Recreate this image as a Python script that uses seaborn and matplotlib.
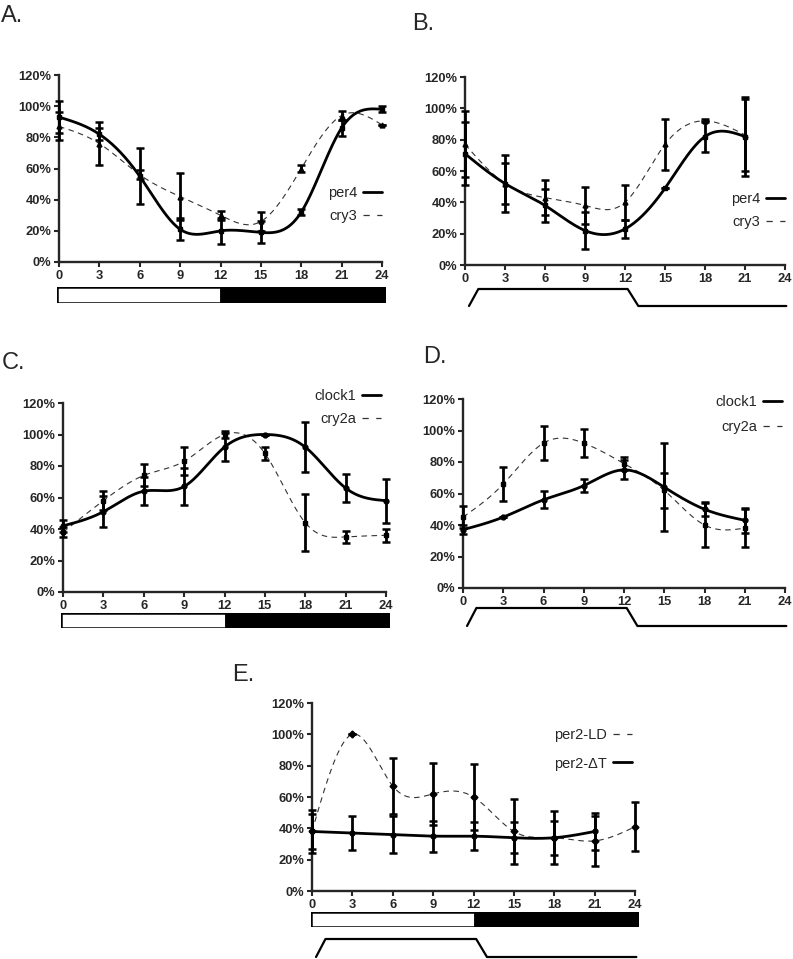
import numpy as np
import matplotlib
matplotlib.use("Agg")
import matplotlib.pyplot as plt
import seaborn as sns
from matplotlib.lines import Line2D

# time points (hours)
hours = [0, 3, 6, 9, 12, 15, 18, 21, 24]
hours_21 = [0, 3, 6, 9, 12, 15, 18, 21]

# A. per4 / cry3 under light-dark
a_per4 = [93, 82, 55, 21, 20, 19, 32, 86, 98]
a_per4_err = [10, 4, 18, 7, 8.5, 7, 2, 5, 2]
a_cry3 = [87, 76, 56, 42, 30, 26, 60, 94, 88]
a_cry3_err = [9, 14, 3, 15, 3, 6, 2, 3, 0]

# B. per4 / cry3 under temperature cycle
b_per4 = [71, 52, 38, 22, 23, 49, 82, 82]
b_per4_err = [20, 18, 10.7, 12, 6, 0, 10, 25]
b_cry3 = [77, 52, 43, 38, 40, 77, 92, 83]
b_cry3_err = [21, 13, 11, 12, 11, 16.5, 1, 23]

# C. clock1 / cry2a under light-dark
c_clock1 = [42, 51, 64, 67, 92, 100, 92, 66, 58]
c_clock1_err = [4, 10, 9, 12, 9, 0, 16, 9, 14]
c_cry2a = [38, 58, 74, 83, 100, 88, 44, 35, 36]
c_cry2a_err = [3, 6, 7, 9, 2, 4, 18, 4, 4]

# D. clock1 / cry2a under temperature cycle
d_clock1 = [37, 45, 56, 65, 75, 64, 50, 43]
d_clock1_err = [3, 0, 5.5, 4, 6, 28, 4.5, 8]
d_cry2a = [45, 66, 92, 92, 79, 62, 40, 38]
d_cry2a_err = [7, 11, 11, 9, 4, 11, 14, 12]

# E. per2 LD vs temperature cycle
e_ld = [38, 100, 67, 62, 60, 38, 34, 32, 41]
e_ld_err = [14, 0, 18, 20, 21, 21, 17, 16, 15.5]
e_dt = [38, 37, 36, 35, 35, 34, 34, 38]
e_dt_err = [11, 11, 12, 10, 9, 10, 11, 12]

# light schedule bar (start, length, colour)
ld_start = [0, 12]
ld_length = [12, 12]
ld_colors = ["white", "black"]

# temperature schematic trace
trace_x = [0.3, 1.0, 12.2, 13.0, 24.1]
trace_y = [0, 1, 1, 0, 0]

W, H = 793, 959
sns.set_style("ticks")
plt.rcParams["font.family"] = ["Liberation Sans", "DejaVu Sans"]

fig = plt.figure(figsize=(W / 100, H / 100), dpi=100)


def box(x0, y0, x1, y1):
    return [x0 / W, 1 - y1 / H, (x1 - x0) / W, (y1 - y0) / H]


def spline(x, y, n=300):
    # natural cubic spline through the points, like the smoothed curves in the figure
    x = np.asarray(x, float)
    y = np.asarray(y, float)
    k = len(x)
    h = np.diff(x)
    A = np.zeros((k, k))
    b = np.zeros(k)
    A[0, 0] = A[-1, -1] = 1
    for i in range(1, k - 1):
        A[i, i - 1] = h[i - 1]
        A[i, i] = 2 * (h[i - 1] + h[i])
        A[i, i + 1] = h[i]
        b[i] = 3 * ((y[i + 1] - y[i]) / h[i] - (y[i] - y[i - 1]) / h[i - 1])
    c = np.linalg.solve(A, b)
    xs = np.linspace(x[0], x[-1], n)
    idx = np.clip(np.searchsorted(x, xs) - 1, 0, k - 2)
    dx = xs - x[idx]
    bb = (y[1:] - y[:-1]) / h - h * (2 * c[:-1] + c[1:]) / 3
    d = (c[1:] - c[:-1]) / (3 * h)
    ys = y[idx] + bb[idx] * dx + c[idx] * dx ** 2 + d[idx] * dx ** 3
    return xs, ys


SOLID = dict(color="black", lw=2.0)
DASH = dict(color="#333333", lw=0.8, linestyle=(0, (5, 4)))
DASH_LEG = dict(color="#333333", lw=0.9, linestyle=(0, (5, 6)))


def draw_series(ax, x, y, err, style, marker):
    xs, ys = spline(x, y)
    sns.lineplot(x=xs, y=ys, ax=ax, sort=False, estimator=None, **style)
    ax.errorbar(x, y, yerr=err, fmt=marker, ms=3.5, color="black",
                elinewidth=2.0, capsize=3, capthick=1.8, clip_on=False, zorder=3)


def setup(ax):
    ax.set_xlim(0, 24)
    ax.set_ylim(0, 120)
    ax.set_xticks(range(0, 25, 3))
    ax.set_yticks(range(0, 121, 20))
    ax.set_yticklabels([f"{v}%" for v in range(0, 121, 20)])
    sns.despine(ax=ax)
    for s in ("left", "bottom"):
        ax.spines[s].set_linewidth(1.7)
    ax.tick_params(width=1.5, length=3.5, pad=2, labelsize=9.3)
    for t in ax.get_xticklabels() + ax.get_yticklabels():
        t.set_fontweight("bold")
    ax.set_xlabel("")
    ax.set_ylabel("")
    ax.patch.set_alpha(0)


def legend(ax, names, styles, loc_xy, spacing=0.6):
    handles = [Line2D([], [], **st) for st in styles]
    lg = ax.legend(handles, names, loc="upper right", bbox_to_anchor=loc_xy,
                   bbox_transform=fig.transFigure, frameon=False, markerfirst=False,
                   fontsize=10.5, handlelength=1.3, handletextpad=0.4,
                   labelspacing=spacing, borderpad=0, borderaxespad=0)
    return lg


def ld_bar(rect):
    ax = fig.add_axes(box(*rect))
    ax.barh([0], ld_length, left=ld_start, color=ld_colors, edgecolor="black",
            linewidth=1.8, height=1)
    ax.set_xlim(0, 24)
    ax.set_ylim(-0.5, 0.5)
    ax.axis("off")


def temp_trace(rect):
    ax = fig.add_axes(box(*rect))
    sns.lineplot(x=trace_x, y=trace_y, ax=ax, sort=False, estimator=None,
                 color="black", lw=1.6)
    for ln in ax.lines:
        ln.set_clip_on(False)
    ax.set_xlim(0, 24)
    ax.set_ylim(0, 1)
    ax.axis("off")


# Panel A
axA = fig.add_axes(box(59, 75, 382, 262))
draw_series(axA, hours, a_cry3, a_cry3_err, DASH, "^")
draw_series(axA, hours, a_per4, a_per4_err, SOLID, "s")
setup(axA)
legend(axA, ["per4", "cry3"], [SOLID, DASH_LEG], (382 / W, 1 - 186 / H))
ld_bar((57, 287, 386, 303))

# Panel B
axB = fig.add_axes(box(465, 77, 785, 265))
draw_series(axB, hours_21, b_cry3, b_cry3_err, DASH, "^")
draw_series(axB, hours_21, b_per4, b_per4_err, SOLID, "s")
setup(axB)
legend(axB, ["per4", "cry3"], [SOLID, DASH_LEG], (785 / W, 1 - 192 / H))
temp_trace((465, 289, 785, 306))

# Panel C
axC = fig.add_axes(box(63, 403, 386, 592))
draw_series(axC, hours, c_cry2a, c_cry2a_err, DASH, "s")
draw_series(axC, hours, c_clock1, c_clock1_err, SOLID, "o")
setup(axC)
legend(axC, ["clock1", "cry2a"], [SOLID, DASH_LEG], (381 / W, 1 - 389 / H))
ld_bar((61, 613, 390, 628))

# Panel D
axD = fig.add_axes(box(463, 399, 785, 588))
draw_series(axD, hours_21, d_cry2a, d_cry2a_err, DASH, "s")
draw_series(axD, hours_21, d_clock1, d_clock1_err, SOLID, "o")
setup(axD)
legend(axD, ["clock1", "cry2a"], [SOLID, DASH_LEG], (782 / W, 1 - 395 / H), 0.75)
temp_trace((463, 608, 785, 626))

# Panel E
axE = fig.add_axes(box(312, 703, 635, 891))
draw_series(axE, hours, e_ld, e_ld_err, DASH, "D")
draw_series(axE, hours_21, e_dt, e_dt_err, SOLID, "o")
setup(axE)
legend(axE, ["per2-LD", "per2-\u0394T"], [DASH_LEG, SOLID], (632 / W, 1 - 728 / H), 1.0)
ld_bar((311, 912, 639, 927))
temp_trace((312, 939, 635, 957))

# panel letters
for lab, x, y in [("A.", 1, 22), ("B.", 412, 30), ("C.", 2, 369),
                  ("D.", 423, 363), ("E.", 232, 681)]:
    fig.text(x / W, 1 - y / H, lab, fontsize=17, va="baseline", ha="left")

fig.savefig("out.png", dpi=100)
